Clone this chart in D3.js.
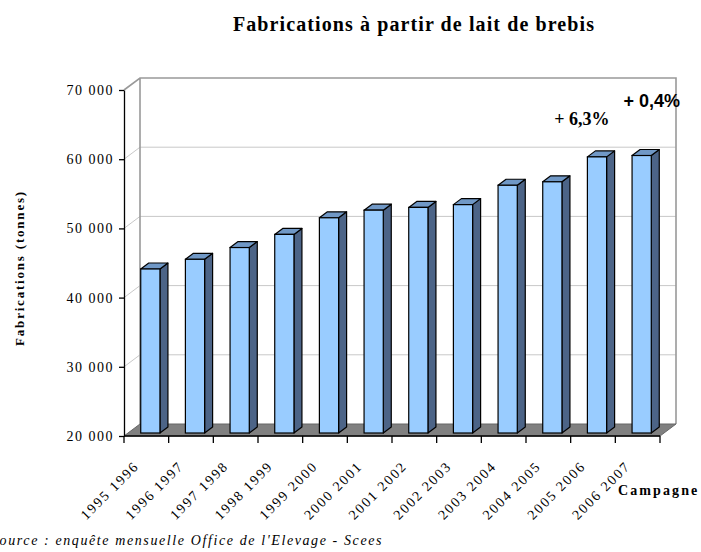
<!DOCTYPE html>
<meta charset="utf-8">
<script src="https://d3js.org/d3.v7.min.js"></script>
<style>
  body { margin: 0; background: #fff; }
  text { font-family: "Liberation Serif", "Times New Roman", serif; fill: #000; }
</style>
<div id="chart"></div>
<script>
// data
const campagnes = ["1995 1996", "1996 1997", "1997 1998", "1998 1999", "1999 2000", "2000 2001",
                   "2001 2002", "2002 2003", "2003 2004", "2004 2005", "2005 2006", "2006 2007"];
const fabrications = [43700, 45100, 46800, 48700, 51100, 52200, 52600, 53000, 55800, 56300, 59900, 60100];
const yTicks = [20000, 30000, 40000, 50000, 60000, 70000];
const evolutions = ["+ 6,3%", "+ 0,4%"];   // last two campaigns

const width = 701, height = 552;
const pLeft = 124, pRight = 660, pTop = 90, pBottom = 436;
const wallDx = 16, wallDy = -12;          // depth of the 3d box
const barShift = [4, -3], barDepth = [8, -6];

const svg = d3.select("#chart").append("svg")
  .attr("width", width).attr("height", height);

const x = d3.scaleBand().domain(campagnes).range([pLeft, pRight]).padding(0);
const y = d3.scaleLinear().domain([20000, 70000]).range([pBottom, pTop]);
const fmt = d3.formatLocale({ decimal: ",", thousands: " ", grouping: [3], currency: ["", ""] }).format(",");

// back wall
svg.append("rect")
  .attr("x", pLeft + wallDx).attr("y", pTop + wallDy)
  .attr("width", pRight - pLeft).attr("height", pBottom - pTop)
  .attr("fill", "#fff");

// gridlines (back wall + side wall)
const grid = yTicks.filter(t => t > 20000 && t < 70000);
svg.selectAll(".gback").data(grid).join("line")
  .attr("x1", pLeft + wallDx).attr("x2", pRight + wallDx)
  .attr("y1", d => y(d) + wallDy).attr("y2", d => y(d) + wallDy)
  .attr("stroke", "#c8c8c8").attr("stroke-width", 1);
svg.selectAll(".gside").data(grid).join("line")
  .attr("x1", pLeft).attr("x2", pLeft + wallDx)
  .attr("y1", d => y(d)).attr("y2", d => y(d) + wallDy)
  .attr("stroke", "#c8c8c8").attr("stroke-width", 1);

// wall borders
svg.append("path")
  .attr("d", `M${pLeft},${pTop} L${pLeft + wallDx},${pTop + wallDy} L${pRight + wallDx},${pTop + wallDy} L${pRight + wallDx},${pBottom + wallDy}`
    + ` M${pLeft + wallDx},${pTop + wallDy} L${pLeft + wallDx},${pBottom + wallDy}`)
  .attr("fill", "none").attr("stroke", "#999").attr("stroke-width", 1.6);

// floor
svg.append("path")
  .attr("d", `M${pLeft},${pBottom} L${pRight},${pBottom} L${pRight + wallDx},${pBottom + wallDy} L${pLeft + wallDx},${pBottom + wallDy} Z`)
  .attr("fill", "#808080").attr("stroke", "#666").attr("stroke-width", 1);

// bars
const bw = x.bandwidth() * 0.43;
const bars = svg.selectAll(".bar").data(fabrications).join("g").attr("class", "bar");
function bx(i) { return x(campagnes[i]) + (x.bandwidth() - bw) / 2 + barShift[0]; }
const y0 = y(20000) + barShift[1];
bars.append("path")   // side
  .attr("d", (d, i) => {
    const x1 = bx(i) + bw, yt = y(d) + barShift[1];
    return `M${x1},${y0} L${x1 + barDepth[0]},${y0 + barDepth[1]} L${x1 + barDepth[0]},${yt + barDepth[1]} L${x1},${yt} Z`;
  })
  .attr("fill", "#4c6487").attr("stroke", "#000").attr("stroke-width", 1.2).attr("stroke-linejoin", "round");
bars.append("path")   // top
  .attr("d", (d, i) => {
    const x0 = bx(i), yt = y(d) + barShift[1];
    return `M${x0},${yt} L${x0 + barDepth[0]},${yt + barDepth[1]} L${x0 + bw + barDepth[0]},${yt + barDepth[1]} L${x0 + bw},${yt} Z`;
  })
  .attr("fill", "#7098c6").attr("stroke", "#000").attr("stroke-width", 1.2).attr("stroke-linejoin", "round");
bars.append("rect")   // front
  .attr("x", (d, i) => bx(i)).attr("y", d => y(d) + barShift[1])
  .attr("width", bw).attr("height", d => y0 - (y(d) + barShift[1]))
  .attr("fill", "#99ccff").attr("stroke", "#000").attr("stroke-width", 1.2);

// y axis
const yAxis = svg.append("g")
  .attr("transform", `translate(${pLeft},0)`)
  .call(d3.axisLeft(y).tickValues(yTicks).tickFormat(fmt).tickSize(5).tickSizeOuter(0).tickPadding(5));
yAxis.select(".domain").attr("stroke", "#000").attr("stroke-width", 1.3);
yAxis.selectAll(".tick line").attr("stroke", "#000").attr("stroke-width", 1.3);
yAxis.selectAll("text")
  .attr("font-family", "Liberation Serif").attr("font-size", 14).attr("letter-spacing", 1.5).attr("fill", "#000");

// x axis
svg.append("line")
  .attr("x1", pLeft).attr("x2", pRight).attr("y1", pBottom).attr("y2", pBottom)
  .attr("stroke", "#000").attr("stroke-width", 1.3);
const bounds = campagnes.map(c => x(c)).concat([pRight]);
svg.selectAll(".xtick").data(bounds).join("line")
  .attr("x1", d => d).attr("x2", d => d).attr("y1", pBottom).attr("y2", pBottom + 7)
  .attr("stroke", "#000").attr("stroke-width", 1.3);
svg.selectAll(".xlabel").data(campagnes).join("text")
  .attr("transform", d => `translate(${x(d) + x.bandwidth() / 2 - 6.5},${pBottom + 31}) rotate(-45)`)
  .attr("text-anchor", "end")
  .attr("font-size", 14).attr("letter-spacing", 1.8)
  .text(d => d);

// title and axis titles
svg.append("text")
  .attr("x", 414).attr("y", 31).attr("text-anchor", "middle")
  .attr("font-size", 20).attr("font-weight", "bold").attr("letter-spacing", 1.1)
  .text("Fabrications à partir de lait de brebis");
svg.append("text")
  .attr("transform", "translate(24,268) rotate(-90)").attr("text-anchor", "middle")
  .attr("font-size", 13).attr("font-weight", "bold").attr("letter-spacing", 1.8)
  .text("Fabrications (tonnes)");
svg.append("text")
  .attr("x", 618).attr("y", 495)
  .attr("font-size", 14).attr("font-weight", "bold").attr("letter-spacing", 2.1)
  .text("Campagne");
svg.append("text")
  .attr("x", -9).attr("y", 545)
  .attr("font-size", 14).attr("font-style", "italic").attr("letter-spacing", 1.6)
  .text("Source : enquête mensuelle Office de l'Elevage - Scees");

// evolution labels over the last two bars
const n = fabrications.length;
svg.append("text")
  .attr("x", bx(n - 2) + bw / 2 - 15).attr("y", y(fabrications[n - 2]) - 35)
  .attr("text-anchor", "middle").attr("font-size", 18).attr("font-weight", "bold")
  .text(evolutions[0]);
svg.append("text")
  .attr("x", bx(n - 1) + bw / 2 + 10).attr("y", y(fabrications[n - 1]) - 52)
  .attr("text-anchor", "middle").attr("font-size", 18).attr("font-weight", "bold")
  .style("font-family", "'Liberation Sans', Arial, sans-serif")
  .text(evolutions[1]);
</script>
